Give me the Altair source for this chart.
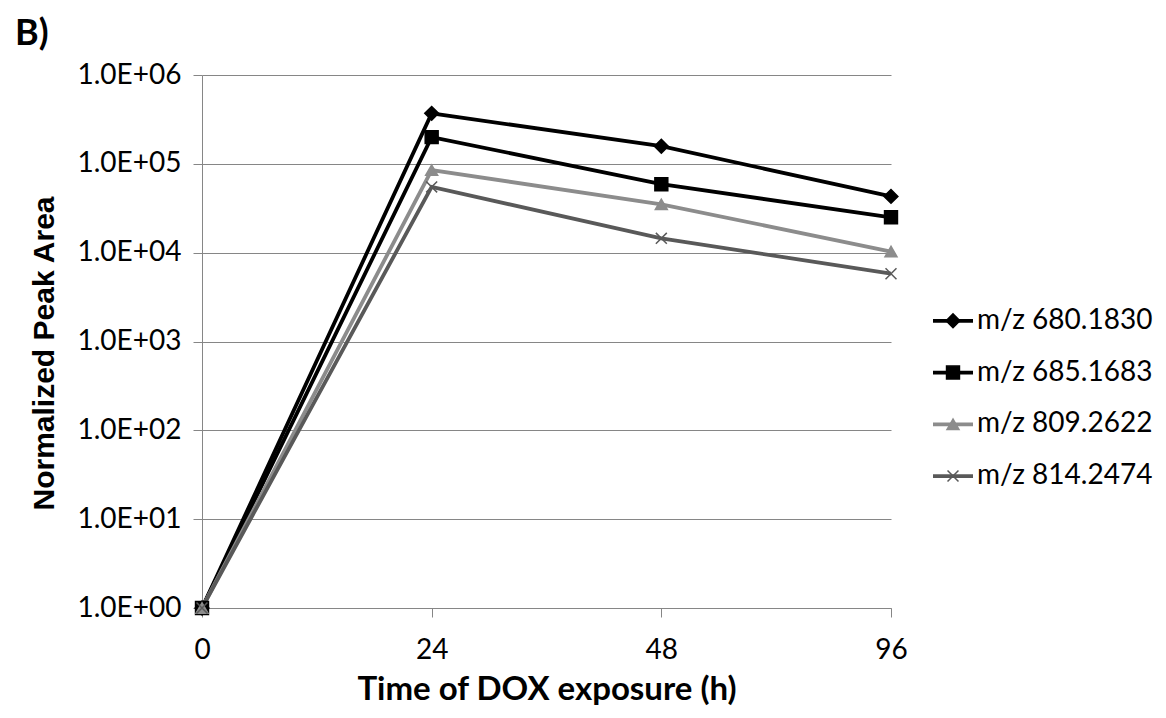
import altair as alt
import pandas as pd

times = ["0", "24", "48", "96"]
series = ["m/z 680.1830", "m/z 685.1683", "m/z 809.2622", "m/z 814.2474"]
v680 = [1.0, 3.7e5, 1.58e5, 4.3e4]
v685 = [1.0, 2.0e5, 5.9e4, 2.5e4]
v809 = [1.0, 8.5e4, 3.5e4, 1.03e4]
v814 = [1.0, 5.5e4, 1.45e4, 5.8e3]
y_ticks = [1, 10, 100, 1000, 10000, 100000, 1000000]

colors = ["#000000", "#000000", "#8c8c8c", "#595959"]
widths = [3.8, 3.8, 2.8, 2.8]
shapes = ["diamond", "square", "triangle-up", "M-1,-1L1,1M-1,1L1,-1"]
sizes = [190, 120, 130, 100]

rows = []
for s, vals in zip(series, [v680, v685, v809, v814]):
    for t, v in zip(times, vals):
        rows.append({"time": t, "value": v, "series": s})
df = pd.DataFrame(rows)

FONT = "Lato"
GRAY = "#868686"

col = alt.Scale(domain=series, range=colors)
shp = alt.Scale(domain=series, range=shapes)
sz = alt.Scale(domain=series, range=sizes)
sw = alt.Scale(domain=series, range=widths)

x_enc = alt.X("time:O", sort=times, scale=alt.Scale(type="point", padding=0),
              axis=alt.Axis(title="Time of DOX exposure (h)", labelAngle=0,
                            labelFontSize=28, labelFont=FONT, labelColor="black",
                            titleFontSize=33, titleFont=FONT, titleFontWeight="bold",
                            titleColor="black", titlePadding=9,
                            tickSize=9, tickColor=GRAY, domainColor=GRAY,
                            labelPadding=19, grid=False))
y_enc = alt.Y("value:Q", scale=alt.Scale(type="log", domain=[1, 1e6], nice=False),
              axis=alt.Axis(title="Normalized Peak Area", values=y_ticks,
                            labelExpr="'1.0E+0' + round(log(datum.value)/LN10)",
                            labelFontSize=28, labelFont=FONT, labelColor="black",
                            titleFontSize=30, titleFont="Liberation Sans", titleFontWeight="bold",
                            titleColor="black", titlePadding=18, titleY=278,
                            tickSize=9, tickColor=GRAY, domainColor=GRAY,
                            gridColor=GRAY, gridWidth=1, labelPadding=12))

base = alt.Chart(df)
lines = base.mark_line().encode(
    x=x_enc, y=y_enc,
    stroke=alt.Stroke("series:N", scale=col, legend=None),
    strokeWidth=alt.StrokeWidth("series:N", scale=sw, legend=None),
    detail="series:N",
)
points = base.mark_point(opacity=1, strokeWidth=1.5).encode(
    x=x_enc, y=y_enc,
    fill=alt.Fill("series:N", scale=col, legend=None),
    stroke=alt.Stroke("series:N", scale=col, legend=None),
    shape=alt.Shape("series:N", scale=shp, legend=None),
    size=alt.Size("series:N", scale=sz, legend=None),
)
main = alt.layer(lines, points).properties(width=689, height=533)

leg_df = pd.DataFrame({"series": series, "idx": list(range(len(series)))})
ly = alt.Y("idx:Q", scale=alt.Scale(domain=[-4.75, 5.55], reverse=True, nice=False, zero=False), axis=None)
lbase = alt.Chart(leg_df)
lrule = lbase.mark_rule().encode(
    x=alt.value(0), x2=alt.value(40), y=ly,
    stroke=alt.Stroke("series:N", scale=col, legend=None),
    strokeWidth=alt.StrokeWidth("series:N", scale=sw, legend=None),
)
lpt = lbase.mark_point(opacity=1, strokeWidth=1.5).encode(
    x=alt.value(20), y=ly,
    fill=alt.Fill("series:N", scale=col, legend=None),
    stroke=alt.Stroke("series:N", scale=col, legend=None),
    shape=alt.Shape("series:N", scale=shp, legend=None),
    size=alt.Size("series:N", scale=alt.Scale(domain=series, range=[120, 75, 85, 65]), legend=None),
)
ltext = lbase.mark_text(align="left", baseline="middle", fontSize=28, font=FONT, color="black").encode(
    x=alt.value(44), y=ly, text="series:N"
)
legend = alt.layer(lrule, lpt, ltext).properties(width=180, height=533)

chart = alt.hconcat(main, legend).properties(
    title=alt.TitleParams("B)", anchor="start", fontSize=36, fontWeight="bold", font=FONT,
                          color="black", offset=8, dx=-14),
    padding={"left": 7, "top": 8, "right": 0, "bottom": 0},
).configure_view(stroke=None).configure_concat(spacing=23)

chart.save("out.html", embed_options={"renderer": "svg", "actions": False})
